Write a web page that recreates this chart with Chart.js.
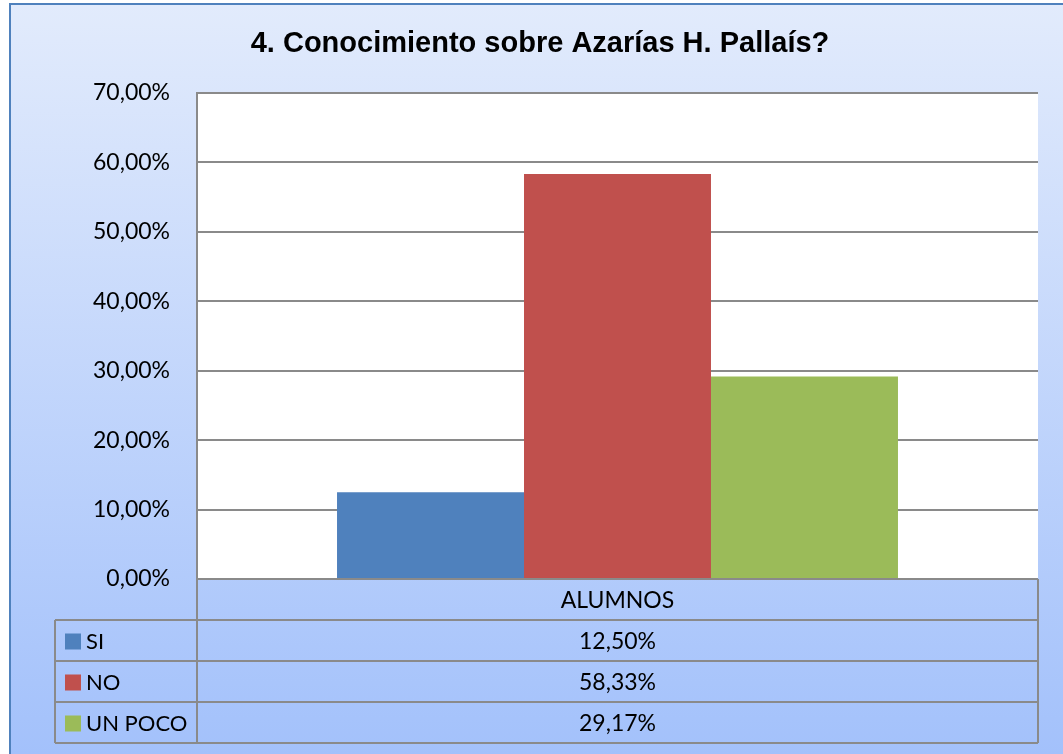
<!DOCTYPE html>
<html>
<head>
<meta charset="utf-8">
<script src="https://cdn.jsdelivr.net/npm/chart.js@4/dist/chart.umd.min.js"></script>
<style>
  html, body { margin: 0; padding: 0; background: #ffffff; }
  canvas { display: block; }
</style>
</head>
<body>
<canvas id="chart" width="1063" height="754"></canvas>
<script>
const chartTitle = "4. Conocimiento sobre Azarías H. Pallaís?";
const categories = ["ALUMNOS"];
const seriesNames = ["SI", "NO", "UN POCO"];
const seriesValues = [12.50, 58.33, 29.17];
const yTicks = [0, 10, 20, 30, 40, 50, 60, 70];

const seriesColors = ["#4f81bd", "#c0504d", "#9bbb59"];
const lineColor = "#8a8a8a";
const rowHeight = 41;
const legendColLeft = 55;

function formatPercent(value) {
  return value.toFixed(2).replace(".", ",") + "%";
}

const backgroundPlugin = {
  id: "background",
  beforeDraw: function (chart) {
    const ctx = chart.ctx;
    const area = chart.chartArea;
    ctx.save();
    ctx.fillStyle = "#ffffff";
    ctx.fillRect(0, 0, chart.width, chart.height);
    const gradient = ctx.createLinearGradient(0, 4, 0, chart.height);
    gradient.addColorStop(0, "#e2ebfc");
    gradient.addColorStop(1, "#a3c1fb");
    ctx.fillStyle = gradient;
    ctx.fillRect(10, 4, chart.width - 10, chart.height - 4);
    ctx.fillStyle = "#4f81bd";
    ctx.fillRect(9, 3, chart.width - 9, 2);
    ctx.fillRect(9, 3, 2, chart.height - 3);
    ctx.fillStyle = "#ffffff";
    ctx.fillRect(area.left, area.top, area.right - area.left, area.bottom - area.top);

    // title, centred on the chart frame
    ctx.fillStyle = "#000000";
    ctx.font = "bold 29px Arial, 'Liberation Sans', sans-serif";
    ctx.textAlign = "center";
    ctx.textBaseline = "alphabetic";
    ctx.fillText(chartTitle, 540, 52);
    ctx.restore();
  }
};

const dataTablePlugin = {
  id: "dataTable",
  afterDraw: function (chart) {
    const ctx = chart.ctx;
    const area = chart.chartArea;
    const top = area.bottom;
    const bottom = top + rowHeight * (seriesNames.length + 1);
    const midX = (area.left + area.right) / 2;

    ctx.save();
    ctx.strokeStyle = lineColor;
    ctx.lineWidth = 2;
    ctx.beginPath();
    // header row
    ctx.moveTo(area.left, top);
    ctx.lineTo(area.right, top);
    for (let i = 1; i <= seriesNames.length + 1; i++) {
      const y = top + rowHeight * i;
      ctx.moveTo(legendColLeft, y);
      ctx.lineTo(area.right, y);
    }
    ctx.moveTo(area.left, top);
    ctx.lineTo(area.left, bottom);
    ctx.moveTo(area.right, top);
    ctx.lineTo(area.right, bottom);
    ctx.moveTo(legendColLeft, top + rowHeight);
    ctx.lineTo(legendColLeft, bottom);
    ctx.stroke();

    ctx.fillStyle = "#000000";
    ctx.font = "23px Lato";
    ctx.textBaseline = "middle";
    ctx.textAlign = "center";
    ctx.fillText(categories[0], midX, top + rowHeight / 2 + 1);

    seriesNames.forEach(function (name, i) {
      const rowMid = top + rowHeight * (i + 1) + rowHeight / 2 + 1;
      ctx.fillStyle = seriesColors[i];
      ctx.fillRect(legendColLeft + 10, rowMid - 8, 16, 16);
      ctx.fillStyle = "#000000";
      ctx.textAlign = "left";
      ctx.font = "22px Lato";
      ctx.fillText(name, legendColLeft + 31, rowMid);
      ctx.textAlign = "center";
      ctx.font = "23px Lato";
      ctx.fillText(formatPercent(seriesValues[i]), midX, rowMid);
    });
    ctx.restore();
  }
};

new Chart(document.getElementById("chart"), {
  type: "bar",
  data: {
    labels: categories,
    datasets: seriesNames.map(function (name, i) {
      return {
        label: name,
        data: [seriesValues[i]],
        backgroundColor: seriesColors[i],
        borderWidth: 0,
        categoryPercentage: 0.667,
        barPercentage: 1
      };
    })
  },
  options: {
    responsive: false,
    animation: false,
    layout: {
      padding: { left: 0, right: 25, top: 93, bottom: 175 }
    },
    plugins: {
      legend: { display: false },
      tooltip: { enabled: false },
      title: { display: false }
    },
    scales: {
      x: {
        display: false
      },
      y: {
        min: yTicks[0],
        max: yTicks[yTicks.length - 1],
        afterFit: function (scale) {
          scale.width = 197;
        },
        afterBuildTicks: function (scale) {
          scale.ticks = yTicks.map(function (v) { return { value: v }; });
        },
        ticks: {
          color: "#000000",
          padding: 27,
          font: { family: "Lato", size: 23 },
          callback: function (value) {
            return formatPercent(value);
          }
        },
        grid: {
          color: lineColor,
          lineWidth: 2,
          drawTicks: false
        },
        border: {
          display: true,
          color: lineColor,
          width: 2
        }
      }
    }
  },
  plugins: [backgroundPlugin, dataTablePlugin]
});
</script>
</body>
</html>
